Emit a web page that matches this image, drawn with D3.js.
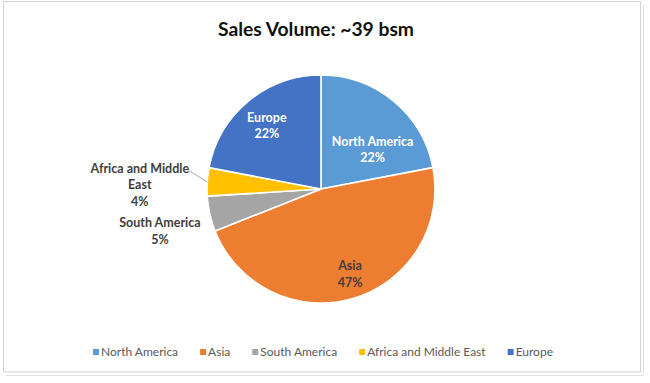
<!DOCTYPE html>
<html><head><meta charset="utf-8">
<script src="https://cdn.jsdelivr.net/npm/d3@7"></script>
<style>
html,body{margin:0;padding:0;background:#fff;}
svg{display:block;font-family:Lato,"Open Sans",sans-serif;}
</style></head>
<body>
<svg id="chart" width="650" height="383"></svg>
<script>
// ---- data ----
const title = "Sales Volume: ~39 bsm";
const regions = ["North America", "Asia", "South America", "Africa and Middle East", "Europe"];
const shares = [22, 47, 5, 4, 22];
const colors = ["#5B9BD5", "#ED7D31", "#A5A5A5", "#FFC000", "#4472C4"];

// ---- layout ----
const W = 650, H = 383;
const cx = 321, cy = 189, R = 114;
// label placement: polar offsets from each slice's mid angle (deg) and radius fraction
const labelLayout = {
  "North America": {r: 0.57, da: 13, fill: "#fff"},
  "Asia":          {r: 0.79, da: -2.6, fill: "#404040"},
  "Europe":        {r: 0.73, da: -1, fill: "#fff"},
  "South America": {r: 1.46, da: -2, fill: "#404040", lines: ["South America"]},
  "Africa and Middle East": {r: 1.59, da: -2.3, fill: "#404040", lines: ["Africa and Middle", "East"], leader: true}
};

const svg = d3.select("#chart");
svg.append("rect").attr("width", W).attr("height", H).attr("fill", "#fff");
// chart frame
svg.append("rect").attr("x", 3.5).attr("y", 1.5).attr("width", 637).attr("height", 370.5)
  .attr("fill", "none").attr("stroke", "#d4d4d4").attr("stroke-width", 1);
svg.append("line").attr("x1", 643.5).attr("x2", 643.5).attr("y1", 4).attr("y2", 375.5).attr("stroke", "#e2e2e2");
svg.append("line").attr("x1", 6).attr("x2", 643.5).attr("y1", 375.5).attr("y2", 375.5).attr("stroke", "#e2e2e2");

// title
const t = svg.append("text").attr("x", 316).attr("y", 36).attr("text-anchor", "middle")
  .attr("font-weight", 700).attr("font-size", 19).attr("fill", "#111").text(title);
(function(){ const w = t.node().getComputedTextLength(); t.attr("font-size", 19 * 196 / w); })();

const data = regions.map((r, i) => ({region: r, value: shares[i], color: colors[i]}));
const pie = d3.pie().sort(null).value(d => d.value);
const arcs = pie(data);
const arc = d3.arc().innerRadius(0).outerRadius(R);

const g = svg.append("g").attr("transform", `translate(${cx},${cy})`);
g.selectAll("path.slice").data(arcs).join("path").attr("class", "slice")
  .attr("d", arc).attr("fill", d => d.data.color)
  .attr("stroke", "#fff").attr("stroke-width", 1.6).attr("stroke-linejoin", "round");

const fmt = d => d3.format(".0f")(d.value / d3.sum(shares) * 100) + "%";
const lineH = 16.5, fs = 12.5;
arcs.forEach(a => {
  const L = labelLayout[a.data.region];
  const mid = (a.startAngle + a.endAngle) / 2 + L.da * Math.PI / 180;
  const px = Math.sin(mid) * R * L.r, py = -Math.cos(mid) * R * L.r;
  const lines = (L.lines || [a.data.region]).concat([fmt(a)]);
  const top = py - (lines.length - 1) * lineH / 2;
  const tx = g.append("text").attr("text-anchor", "middle").attr("font-weight", 700)
    .attr("font-size", fs).attr("fill", L.fill);
  lines.forEach((s, i) => {
    tx.append("tspan").attr("x", px).attr("y", top + i * lineH).attr("dy", "0.35em").text(s);
  });
  if (L.leader) {
    const midA = (a.startAngle + a.endAngle) / 2;
    const ex = Math.sin(midA) * R, ey = -Math.cos(midA) * R;
    const bb = tx.node().getBBox();
    g.append("line").attr("x1", bb.x + bb.width - 1).attr("y1", top + 2)
      .attr("x2", ex).attr("y2", ey).attr("stroke", "#a6a6a6").attr("stroke-width", 1);
  }
});

// legend
const lg = svg.append("g").attr("font-size", 12).attr("fill", "#595959");
const items = [];
data.forEach(d => {
  const it = lg.append("g");
  it.append("rect").attr("x", 0).attr("y", -3).attr("width", 6).attr("height", 6).attr("fill", d.color);
  const tt = it.append("text").attr("x", 8).attr("y", 0).attr("dy", "0.35em").attr("fill", "#595959").text(d.region);
  items.push({g: it, w: 8 + tt.node().getComputedTextLength()});
});
const gap = 22;
const total = d3.sum(items, d => d.w) + gap * (items.length - 1);
let x = 323 - total / 2;
items.forEach(it => { it.g.attr("transform", `translate(${x},352)`); x += it.w + gap; });
</script>
</body></html>
